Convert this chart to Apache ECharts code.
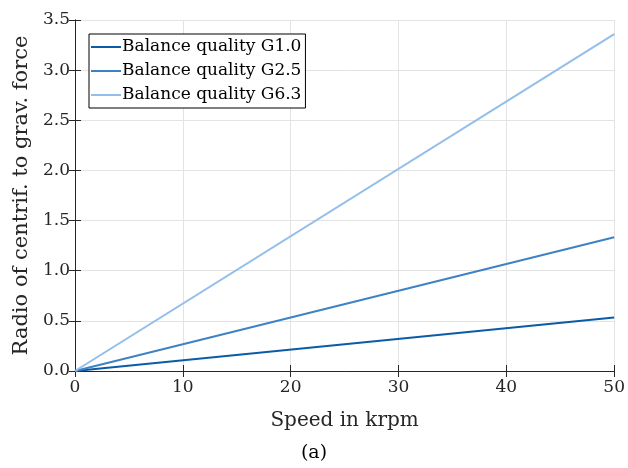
<!DOCTYPE html>
<html><head><meta charset="utf-8">
<script src="https://cdn.jsdelivr.net/npm/echarts@6/dist/echarts.min.js"></script>
<style>html,body{margin:0;padding:0;background:#fff}#c{width:628px;height:468px}</style>
</head><body><div id="c"></div>
<script>
const speeds = [0, 50];
const g10 = [0, 0.533];
const g25 = [0, 1.333];
const g63 = [0, 3.36];
const seriesNames = ['Balance quality G1.0', 'Balance quality G2.5', 'Balance quality G6.3'];
const colors = ['#0b5ba6', '#3d82c4', '#93bee9'];
const F = '"DejaVu Serif", "Liberation Serif", serif';
const chart = echarts.init(document.getElementById('c'));
const pts = (ys) => speeds.map((x, i) => [x, ys[i]]);
const baseAxis = {
  axisLine: {show: true, lineStyle: {color: '#262626', width: 1}},
  axisTick: {show: true, inside: true, length: 6, lineStyle: {color: '#262626', width: 1}},
};
chart.setOption({
  animation: false,
  grid: {left: 75, right: 11, top: 20, bottom: 97},
  legend: {
    left: 89, top: 34, orient: 'vertical',
    data: seriesNames,
    icon: 'rect', itemWidth: 30, itemHeight: 2, itemGap: 6,
    borderColor: '#000', borderWidth: 1, padding: [4, 4, 4, 2],
    textStyle: {fontFamily: F, fontSize: 17, color: '#000', padding: [0, 0, 0, -4], lineHeight: 18},
    backgroundColor: '#fff'
  },
  xAxis: [
    Object.assign({}, baseAxis, {type: 'value', min: 0, max: 50, interval: 10,
      name: 'Speed in krpm', nameLocation: 'middle', nameGap: 40,
      nameTextStyle: {fontFamily: F, fontSize: 20, color: '#262626'},
      axisLabel: {fontFamily: F, fontSize: 17, color: '#262626', margin: 8},
      splitLine: {show: true, lineStyle: {color: '#e3e3e3', width: 1}}}),
    Object.assign({}, baseAxis, {type: 'value', position: 'top', min: 0, max: 50, interval: 10,
      axisLabel: {show: false}, splitLine: {show: false}})
  ],
  yAxis: [
    Object.assign({}, baseAxis, {type: 'value', min: 0, max: 3.5, interval: 0.5,
      name: 'Radio of centrif. to grav. force', nameLocation: 'middle', nameGap: 42,
      nameTextStyle: {fontFamily: F, fontSize: 21, color: '#262626'},
      axisLabel: {fontFamily: F, fontSize: 17, color: '#262626', margin: 5,
        formatter: v => v.toFixed(1)},
      splitLine: {show: true, lineStyle: {color: '#e3e3e3', width: 1}}}),
    Object.assign({}, baseAxis, {type: 'value', position: 'right', min: 0, max: 3.5, interval: 0.5,
      axisLabel: {show: false}, splitLine: {show: false}})
  ],
  series: [
    {name: seriesNames[0], type: 'line', data: pts(g10), showSymbol: false, lineStyle: {width: 2, color: colors[0]}, itemStyle: {color: colors[0]}},
    {name: seriesNames[1], type: 'line', data: pts(g25), showSymbol: false, lineStyle: {width: 2, color: colors[1]}, itemStyle: {color: colors[1]}},
    {name: seriesNames[2], type: 'line', data: pts(g63), showSymbol: false, lineStyle: {width: 2, color: colors[2]}, itemStyle: {color: colors[2]}}
  ],
  graphic: [{type: 'text', left: 'center', top: 444,
    style: {text: '(a)', font: '19px ' + F, fill: '#000'}}]
});
</script></body></html>
